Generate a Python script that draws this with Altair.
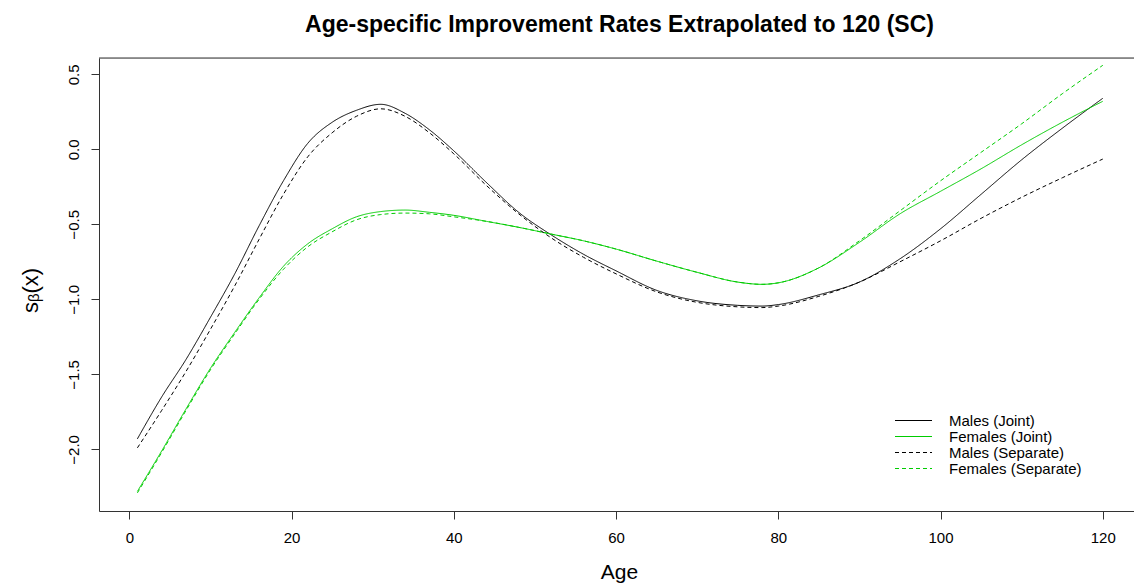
import altair as alt
import pandas as pd

ages = [1, 4, 7, 10, 13, 16, 19, 22, 25, 28, 31, 34, 37, 40, 44, 48, 52, 56, 60,
        65, 70, 75, 78, 80, 85, 90, 95, 100, 105, 110, 115, 120]
males_joint = [-1.93, -1.65, -1.40, -1.12, -0.83, -0.51, -0.21, 0.04, 0.18, 0.26, 0.30,
               0.24, 0.13, -0.01, -0.22, -0.42, -0.57, -0.70, -0.81, -0.94, -1.01,
               -1.04, -1.045, -1.035, -0.97, -0.885, -0.73, -0.53, -0.30, -0.07, 0.14, 0.34]
females_joint = [-2.28, -2.01, -1.73, -1.46, -1.22, -0.99, -0.78, -0.63, -0.53, -0.45,
                 -0.415, -0.405, -0.42, -0.44, -0.48, -0.52, -0.565, -0.61, -0.665, -0.745,
                 -0.82, -0.885, -0.90, -0.89, -0.79, -0.62, -0.43, -0.28, -0.13, 0.03, 0.18, 0.32]
males_separate = [-1.99, -1.74, -1.48, -1.20, -0.91, -0.60, -0.30, -0.05, 0.11, 0.22,
                  0.27, 0.22, 0.11, -0.03, -0.24, -0.43, -0.59, -0.72, -0.83, -0.95,
                  -1.02, -1.05, -1.055, -1.045, -0.98, -0.885, -0.75, -0.61, -0.46, -0.32,
                  -0.19, -0.065]
females_separate = [-2.29, -2.02, -1.74, -1.47, -1.23, -1.00, -0.80, -0.65, -0.55, -0.47,
                    -0.435, -0.425, -0.43, -0.45, -0.48, -0.52, -0.565, -0.61, -0.665, -0.745,
                    -0.82, -0.885, -0.90, -0.89, -0.79, -0.61, -0.41, -0.21, -0.02, 0.17,
                    0.37, 0.56]

series_names = ["Males (Joint)", "Females (Joint)", "Males (Separate)", "Females (Separate)"]
series_values = [males_joint, females_joint, males_separate, females_separate]
series_colors = ["#000000", "#00CC00", "#000000", "#00CC00"]
series_dashes = [[1, 0], [1, 0], [4, 3], [4, 3]]
x_ticks = [0, 20, 40, 60, 80, 100, 120]
y_ticks = [-2.0, -1.5, -1.0, -0.5, 0.0, 0.5]

rows = []
for name, vals in zip(series_names, series_values):
    for a, v in zip(ages, vals):
        rows.append({"age": a, "value": v, "series": name})
df = pd.DataFrame(rows)

W, H = 1035, 453
FONT = "Liberation Sans"
AX = "#333333"

legend = alt.Legend(title=None, orient="none", legendX=807, legendY=355)

lines = alt.Chart(df).mark_line(strokeWidth=1, interpolate="monotone").encode(
    x=alt.X("age:Q",
            scale=alt.Scale(domain=[-3.735, 123.85], nice=False, zero=False),
            axis=alt.Axis(values=x_ticks, format="d", title="Age", grid=False,
                          tickSize=8, labelPadding=11, labelFontSize=15,
                          labelFont=FONT, labelColor="#000000",
                          titleFont=FONT, titleFontSize=21, titleFontWeight="normal",
                          titleColor="#000000", titleX=520, titleY=50,
                          titleBaseline="top", titleAlign="center",
                          domainColor=AX, tickColor=AX)),
    y=alt.Y("value:Q",
            scale=alt.Scale(domain=[-2.411, 0.6087], nice=False, zero=False),
            axis=alt.Axis(values=y_ticks, format=".1f", title="sᵦ(x)", grid=False,
                          tickSize=8, labelPadding=13, labelFontSize=15,
                          labelAngle=270, labelAlign="center", labelBaseline="alphabetic",
                          labelFont=FONT, labelColor="#000000",
                          titleFont=FONT, titleFontSize=22, titleFontWeight="normal",
                          titleColor="#000000", titleAngle=270, titleX=-62, titleY=232,
                          titleBaseline="alphabetic", titleAlign="center",
                          domainColor=AX, tickColor=AX)),
    color=alt.Color("series:N",
                    scale=alt.Scale(domain=series_names, range=series_colors),
                    legend=legend),
    strokeDash=alt.StrokeDash("series:N",
                              scale=alt.Scale(domain=series_names, range=series_dashes),
                              legend=legend),
    detail="series:N",
)

top_border = alt.Chart(pd.DataFrame({"k": [0]})).mark_rule(color=AX, strokeWidth=1).encode(
    x=alt.value(0), x2=alt.value(W), y=alt.value(0)
)

chart = alt.layer(lines, top_border).properties(
    width=W, height=H,
    autosize=alt.AutoSizeParams(type="none"),
    padding={"left": 99, "top": 58, "right": 0, "bottom": 74},
    title=alt.TitleParams("Age-specific Improvement Rates Extrapolated to 120 (SC)",
                          font=FONT, fontSize=23, fontWeight="bold", color="#000000",
                          anchor="middle", frame="group", dx=3, offset=21),
).configure_view(stroke=None).configure(background="white").configure_legend(
    symbolType="M-4,0H4", symbolSize=85.6, symbolStrokeWidth=1.2, labelOffset=28,
    labelFont=FONT, labelFontSize=15, labelColor="#000000",
    rowPadding=-3, padding=0
)

chart.save("out.html", embed_options={"renderer": "svg", "actions": False})
